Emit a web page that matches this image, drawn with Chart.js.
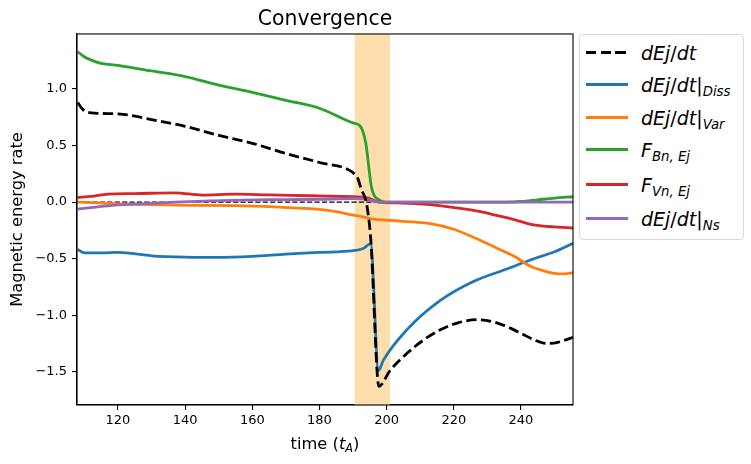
<!DOCTYPE html>
<html>
<head>
<meta charset="utf-8">
<script src="https://cdn.jsdelivr.net/npm/chart.js@4/dist/chart.umd.min.js"></script>
<style>
    body { margin: 0; background: #fff; font-family: "DejaVu Sans", sans-serif; }
    #wrap { position: relative; width: 751px; height: 464px; }
    #xtitle { position: absolute; left: 77px; width: 496px; top: 434px; text-align: center; font-size: 16.3px; line-height: 20px; color: #000; }
    #xtitle sub { font-size: 11.4px; line-height: 0; vertical-align: -3px; font-style: italic; }
    #legend { position: absolute; left: 579px; top: 34px; width: 163px; height: 204px; border: 1px solid #d9d9d9; border-radius: 4px; background: #fff; }
    .row { position: absolute; left: 0; width: 163px; height: 24px; }
    .swatch { position: absolute; left: 6px; top: 10px; width: 42px; height: 3px; }
    .lbl { position: absolute; left: 61px; top: 0; font-size: 19px; line-height: 24px; font-style: italic; white-space: nowrap; color: #000; }
    .lbl .up { font-style: normal; }
    .lbl sub { font-size: 13.3px; line-height: 0; vertical-align: -3.5px; }
</style>
</head>
<body>
<div id="wrap">
    <canvas id="chart" width="751" height="464"></canvas>
    <div id="xtitle">time (<i>t</i><sub>A</sub>)</div>
    <div id="legend"></div>
</div>
<script>
// values
const tTotal = [108, 109.5, 112, 120, 130, 140, 150, 160, 170, 180, 190, 191.4, 192.5, 194, 195.3, 197.7, 201, 206, 211, 216, 221, 227, 233, 240, 244, 247.6, 251, 255.5];
const dEdtTotal = [0.88, 0.82, 0.79, 0.78, 0.73, 0.67, 0.59, 0.52, 0.43, 0.35, 0.26, 0.21, 0.11, -0.01, -0.34, -1.63, -1.49, -1.34, -1.22, -1.13, -1.07, -1.04, -1.07, -1.16, -1.22, -1.25, -1.24, -1.197];

const tDiss = [108, 110, 115, 120, 130, 140, 150, 160, 170, 180, 190, 193, 195.2, 197.6, 199, 206, 216, 226, 236, 243, 250, 255.5];
const dEdtDiss = [-0.42, -0.45, -0.45, -0.445, -0.475, -0.487, -0.49, -0.48, -0.46, -0.445, -0.43, -0.41, -0.37, -1.49, -1.40, -1.13, -0.87, -0.70, -0.59, -0.51, -0.44, -0.365];

const tVar = [108, 120, 137, 160, 175, 180, 185, 190, 193, 196, 200, 205, 213, 220, 228, 233, 238, 243, 247, 250, 253, 255.5];
const dEdtVar = [0.0, -0.015, -0.027, -0.035, -0.055, -0.065, -0.085, -0.115, -0.13, -0.15, -0.16, -0.17, -0.19, -0.24, -0.34, -0.41, -0.48, -0.57, -0.61, -0.63, -0.635, -0.625];

const tBn = [108, 109.7, 111.7, 114.6, 120, 130, 140, 150, 160, 170, 180, 190, 192.2, 193.8, 195.5, 197.7, 200, 220, 236, 240, 245, 250, 255.5];
const fluxBn = [1.33, 1.29, 1.26, 1.23, 1.21, 1.16, 1.11, 1.035, 0.97, 0.90, 0.83, 0.70, 0.67, 0.52, 0.13, 0.02, 0.0, 0.0, 0.0, 0.005, 0.02, 0.035, 0.047];

const tVn = [108, 112, 117, 125, 137, 145, 155, 165, 178, 190, 194, 197.7, 205, 212, 218, 223, 228, 233, 238, 242, 246, 250, 255.5];
const fluxVn = [0.04, 0.05, 0.07, 0.075, 0.082, 0.062, 0.07, 0.063, 0.056, 0.047, 0.04, 0.0, -0.008, -0.02, -0.04, -0.06, -0.085, -0.12, -0.155, -0.19, -0.21, -0.22, -0.23];

const tNs = [108, 117, 127, 137, 147, 157, 170, 180, 190, 193, 196, 198, 255.5];
const dEdtNs = [-0.062, -0.033, -0.015, 0.0, 0.01, 0.018, 0.022, 0.025, 0.03, 0.028, 0.01, 0.0, 0.0];

const zeroLineT = [108, 255.5];
const zeroLineV = [0, 0];

const shadeRange = [190.5, 201];

const xTicks = [120, 140, 160, 180, 200, 220, 240];
const yTicks = [-1.5, -1.0, -0.5, 0.0, 0.5, 1.0];

const legendLabels = [
    'dEj<span class="up">/</span>dt',
    'dEj<span class="up">/</span>dt<span class="up">|</span><sub>Diss</sub>',
    'dEj<span class="up">/</span>dt<span class="up">|</span><sub>Var</sub>',
    'F<sub>Bn, Ej</sub>',
    'F<sub>Vn, Ej</sub>',
    'dEj<span class="up">/</span>dt<span class="up">|</span><sub>Ns</sub>'
];

const pts = (ts, vs) => ts.map((t, i) => ({ x: t, y: vs[i] }));

const mkLine = (label, ts, vs, color, order, extra) => Object.assign({
    label: label,
    data: pts(ts, vs),
    borderColor: color,
    backgroundColor: color,
    borderWidth: 2.8,
    pointRadius: 0,
    fill: false,
    cubicInterpolationMode: 'monotone',
    order: order
}, extra || {});

const datasets = [
    mkLine('dEj/dt', tTotal, dEdtTotal, '#000000', 0, { borderDash: [10.3, 4.4] }),
    mkLine('dEj/dt|Diss', tDiss, dEdtDiss, '#1f77b4', 5),
    mkLine('dEj/dt|Var', tVar, dEdtVar, '#ff7f0e', 4),
    mkLine('F_Bn,Ej', tBn, fluxBn, '#2ca02c', 3),
    mkLine('F_Vn,Ej', tVn, fluxVn, '#d62728', 2),
    mkLine('dEj/dt|Ns', tNs, dEdtNs, '#9467bd', 1),
    mkLine('zero', zeroLineT, zeroLineV, '#000000', 6, { borderWidth: 1.4, borderDash: [5.2, 2.2], cubicInterpolationMode: 'default', tension: 0 })
];

const shadePlugin = {
    id: 'shade',
    beforeDatasetsDraw(chart) {
        const { ctx, chartArea, scales } = chart;
        const x0 = scales.x.getPixelForValue(shadeRange[0]);
        const x1 = scales.x.getPixelForValue(shadeRange[1]);
        ctx.save();
        ctx.fillStyle = '#ffdead';
        ctx.fillRect(x0, chartArea.top, x1 - x0, chartArea.bottom - chartArea.top);
        ctx.restore();
    }
};

const framePlugin = {
    id: 'frame',
    afterDraw(chart) {
        const { ctx, chartArea } = chart;
        ctx.save();
        ctx.strokeStyle = '#000';
        ctx.lineWidth = 1.1;
        ctx.strokeRect(chartArea.left, chartArea.top, chartArea.right - chartArea.left, chartArea.bottom - chartArea.top);
        ctx.restore();
    }
};

const tickFont = { family: 'DejaVu Sans', size: 13 };

new Chart(document.getElementById('chart'), {
    type: 'line',
    data: { datasets: datasets },
    plugins: [shadePlugin, framePlugin],
    options: {
        responsive: false,
        animation: false,
        layout: { padding: { left: 0, top: 0, right: 178, bottom: 0 } },
        plugins: {
            legend: { display: false },
            tooltip: { enabled: false },
            title: {
                display: true,
                fullSize: false,
                text: 'Convergence',
                color: '#000',
                font: { family: 'DejaVu Sans', size: 20.4, weight: 'normal' },
                padding: { top: 7, bottom: 2.5 }
            }
        },
        scales: {
            x: {
                type: 'linear',
                min: 107.8,
                max: 255.5,
                afterBuildTicks: (s) => { s.ticks = xTicks.map(v => ({ value: v })); },
                afterFit: (s) => { s.height = 59; },
                ticks: { color: '#000', font: tickFont, padding: 3, maxRotation: 0, callback: (v) => String(v) },
                grid: { drawOnChartArea: false, drawTicks: true, tickLength: 5, color: '#000', lineWidth: 1.1 },
                border: { display: true, color: '#000', width: 1.1 }
            },
            y: {
                type: 'linear',
                min: -1.795,
                max: 1.487,
                afterBuildTicks: (s) => { s.ticks = yTicks.map(v => ({ value: v })); },
                afterFit: (s) => { s.width = 77; },
                ticks: { color: '#000', font: tickFont, padding: 5, callback: (v) => v.toFixed(1).replace('-', '\u2212') },
                grid: { drawOnChartArea: false, drawTicks: true, tickLength: 5, color: '#000', lineWidth: 1.1 },
                border: { display: true, color: '#000', width: 1.1 },
                title: {
                    display: true,
                    text: 'Magnetic energy rate',
                    color: '#000',
                    font: { family: 'DejaVu Sans', size: 16.3 },
                    padding: { top: 8, bottom: 0 }
                }
            }
        }
    }
});

// html legend, so the subscripts stay real text
const rowCenters = [18, 50, 83, 115, 150, 184];
const legend = document.getElementById('legend');
legendLabels.forEach((html, i) => {
    const ds = datasets[i];
    const row = document.createElement('div');
    row.className = 'row';
    row.style.top = (rowCenters[i] - 12) + 'px';
    const sw = document.createElement('div');
    sw.className = 'swatch';
    if (ds.borderDash) {
        sw.style.background = 'repeating-linear-gradient(90deg, ' + ds.borderColor + ' 0 10.3px, transparent 10.3px 14.7px)';
    } else {
        sw.style.backgroundColor = ds.borderColor;
    }
    const lbl = document.createElement('div');
    lbl.className = 'lbl';
    lbl.innerHTML = html;
    row.appendChild(sw);
    row.appendChild(lbl);
    legend.appendChild(row);
});
</script>
</body>
</html>
